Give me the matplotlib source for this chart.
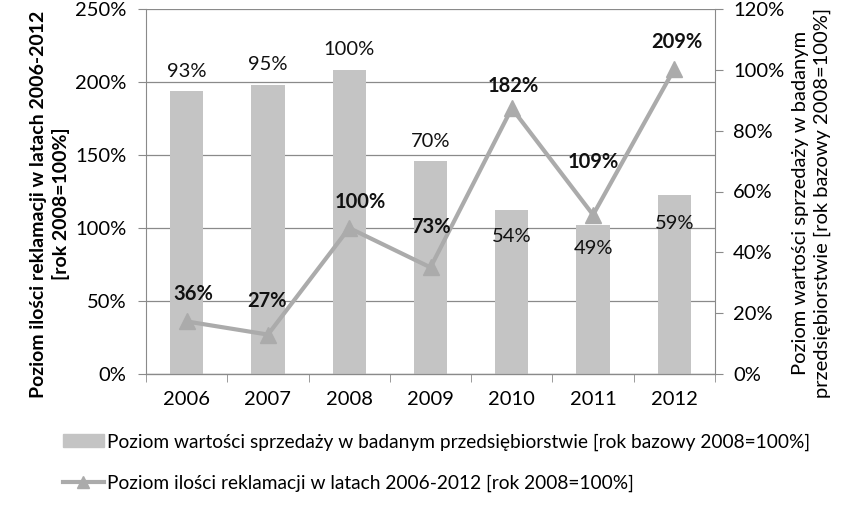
import numpy as np
import matplotlib
matplotlib.use("Agg")
import matplotlib.pyplot as plt
from matplotlib.ticker import FuncFormatter, MultipleLocator, FixedLocator

plt.rcParams["font.family"] = ["Lato", "DejaVu Sans"]

years = ["2006", "2007", "2008", "2009", "2010", "2011", "2012"]
sales = [93, 95, 100, 70, 54, 49, 59]          # right axis, bars
complaints = [36, 27, 100, 73, 182, 109, 209]  # left axis, line

sales_label = "Poziom wartości sprzedaży w badanym przedsiębiorstwie [rok bazowy 2008=100%]"
compl_label = "Poziom ilości reklamacji w latach 2006-2012 [rok 2008=100%]"

# label offsets in points (dx, dy)
bar_offsets = [(0, 14), (0, 15), (0, 15), (0, 14), (0, -19), (0, -17), (0, -21)]
line_offsets = [(5, 20), (-1, 24), (8, 19), (0, 29), (1, 16), (0, 38), (2, 19)]

BAR = "#c4c4c4"
LINE = "#ababab"
GRID = "#8a8a8a"
FS = 14.5

fig = plt.figure(figsize=(8.58, 5.05), dpi=100)
ax = fig.add_axes([146 / 858, 1 - 374 / 505, (715 - 146) / 858, (374 - 9) / 505])
ax2 = ax.twinx()
ax3 = ax.twinx()

x = np.arange(len(years))

# left axis: grid only
ax.set_ylim(0, 250)
ax.yaxis.set_major_locator(MultipleLocator(50))
ax.yaxis.set_major_formatter(FuncFormatter(lambda v, p: f"{v:.0f}%"))
ax.grid(axis="y", color=GRID, lw=0.9)
ax.set_xlim(-0.5, len(years) - 0.5)

# right axis: bars
ax2.bar(x, sales, width=0.41, color=BAR, zorder=2)
ax2.set_ylim(0, 120)
ax2.yaxis.set_major_locator(MultipleLocator(20))
ax2.yaxis.set_major_formatter(FuncFormatter(lambda v, p: f"{v:.0f}%"))
for xi, v, (dx, dy) in zip(x, sales, bar_offsets):
    ax2.annotate(f"{v}%", (xi, v), xytext=(dx, dy), textcoords="offset points",
                 ha="center", va="center", fontsize=FS, color="#111111")

# line on a third layer sharing left scale
ax3.set_ylim(ax.get_ylim())
ax3.plot(x, complaints, color=LINE, lw=3, marker="^", ms=11, zorder=3)
ax3.yaxis.set_visible(False)
for xi, v, (dx, dy) in zip(x, complaints, line_offsets):
    ax3.annotate(f"{v}%", (xi, v), xytext=(dx, dy), textcoords="offset points",
                 ha="center", va="center", fontsize=FS, fontweight="bold", color="#111111")

for a in (ax, ax2, ax3):
    a.spines["top"].set_visible(False)
    for s in ("left", "right", "bottom"):
        a.spines[s].set_color(GRID)
ax3.spines["left"].set_visible(False)
ax3.spines["right"].set_visible(False)
ax2.spines["left"].set_visible(False)
ax.spines["right"].set_visible(False)

ax.tick_params(axis="y", length=6, color=GRID, labelsize=FS, pad=8)
ax2.tick_params(axis="y", length=6, color=GRID, labelsize=FS, pad=7)

ax.set_xticks(x)
ax.set_xticklabels(years)
ax.xaxis.set_minor_locator(FixedLocator(np.arange(-0.5, len(years), 1.0)))
ax.tick_params(axis="x", which="major", length=0, labelsize=FS, pad=12)
ax.tick_params(axis="x", which="minor", length=6, color=GRID)

ax.set_ylabel("Poziom ilości reklamacji w latach 2006-2012\n[rok 2008=100%]",
              fontsize=14, fontweight="bold", linespacing=1.35)
ax.yaxis.set_label_coords(-0.134, 0.466)
ax2.set_ylabel("Poziom wartości sprzedaży w badanym\nprzedsiębiorstwie [rok bazowy 2008=100%]",
               fontsize=14.5, linespacing=1.35)
ax2.yaxis.set_label_coords(1.135, 0.47)

handles = [plt.Rectangle((0, 0), 1, 1, color=BAR),
           plt.Line2D([], [], color=LINE, lw=3, marker="^", ms=9)]
fig.legend(handles, [sales_label, compl_label], loc="upper left",
           bbox_to_anchor=(46 / 858, 1 - 416 / 505), frameon=False,
           fontsize=13.8, handlelength=2.1, handletextpad=0.2, labelspacing=1.25)

fig.savefig("out.png", dpi=100)
